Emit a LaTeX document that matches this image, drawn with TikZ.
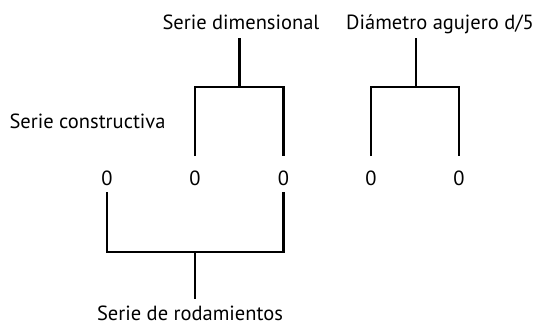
\documentclass[tikz,border=0pt]{standalone}
\usepackage{fontspec}
\setmainfont{PT Sans}
\begin{document}
\begin{tikzpicture}[x=1pt,y=-1pt,
  lbl/.style={inner sep=0pt,anchor=base,font=\fontsize{20.5}{24}\selectfont},
  brk/.style={line width=2.2pt,line cap=butt,line join=miter}]
\useasboundingbox (0,0) rectangle (536,327);
% labels
\node[lbl] (sd) at (241,29) {Serie dimensional};
\node[lbl] (da) at (440,29) {Diámetro agujero d/5};
\node[lbl] (sc) at (87.5,128) {Serie constructiva};
\node[lbl] (sr) at (190,320) {Serie de rodamientos};
% digits
\node[lbl] (z1) at (107,185) {0};
\node[lbl] (z2) at (195,185) {0};
\node[lbl] (z3) at (283.5,185) {0};
\node[lbl] (z4) at (371,185) {0};
\node[lbl] (z5) at (459,185) {0};
% junction coordinates
\coordinate (sdt) at (239.5,38);
\coordinate (sdj) at (239.5,87);
\coordinate (dat) at (416,38);
\coordinate (daj) at (416,87);
\coordinate (z2t) at (195,156);
\coordinate (z3t) at (283.5,156);
\coordinate (z4t) at (371,156);
\coordinate (z5t) at (459,156);
\coordinate (z1b) at (107,192);
\coordinate (z3b) at (283.5,192);
\coordinate (srj) at (195,252);
\coordinate (srb) at (195,299);
% brackets
\draw[brk] (sdt) -- (sdj);
\draw[brk] (z2t) |- (sdj) -| (z3t);
\draw[brk] (dat) -- (daj);
\draw[brk] (z4t) |- (daj) -| (z5t);
\draw[brk] (z1b) |- (srj) -| (z3b);
\draw[brk] (srj) -- (srb);
\end{tikzpicture}
\end{document}
